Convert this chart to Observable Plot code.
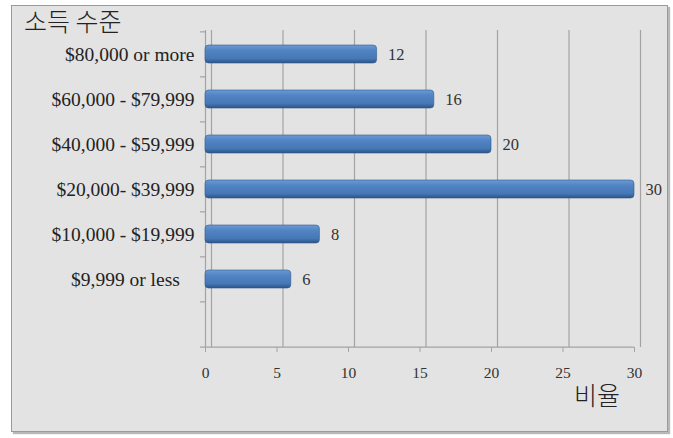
<!DOCTYPE html>
<html>
<head>
<meta charset="utf-8">
<script src="https://cdn.jsdelivr.net/npm/d3@7"></script>
<script src="https://cdn.jsdelivr.net/npm/@observablehq/plot@0.6"></script>
<style>
  html, body { margin: 0; padding: 0; background: #fff; }
  #wrap { position: relative; width: 673px; height: 438px; overflow: hidden; }
  #panel { position: absolute; left: 11px; top: 5px; width: 655px; height: 425px;
           background: #e3e3e3; border: 1px solid #9a9a9a;
           box-shadow: 2px 2px 1px #b8b8b8; }
  #chart { position: absolute; left: 0; top: 0; }
  .lbl { position: absolute; font-family: "Noto Sans CJK KR", sans-serif; font-size: 25px;
         color: #222; font-weight: 300; line-height: 1; }
</style>
</head>
<body>
<div id="wrap">
  <div id="panel"></div>
  <div id="chart"></div>
  <div class="lbl" id="ytitle" style="left:24px; top:8px;">소득 수준</div>
  <div class="lbl" id="xtitle" style="left:574px; top:382px;">비율</div>
</div>
<script>
const categories = ["$80,000 or more", "$60,000 - $79,999", "$40,000 - $59,999", "$20,000- $39,999", "$10,000 - $19,999", "$9,999 or less\u00a0\u00a0\u00a0"];
const values = [12, 16, 20, 30, 8, 6];
const xTicks = [0, 5, 10, 15, 20, 25, 30];
const emptyBand = " ";
const yDomain = [...categories, emptyBand];

const W = 673, H = 438, mt = 30, mb = 91, ml = 205, mr = 39;
const step = (H - mt - mb) / yDomain.length;

const data = categories.map((c, i) => ({cat: c, value: values[i]}));

const chart = Plot.plot({
  width: W, height: H,
  marginLeft: ml, marginRight: mr, marginTop: mt, marginBottom: mb,
  style: {background: "transparent", fontFamily: "'Liberation Serif', serif", color: "#222"},
  x: {domain: [0, 30]},
  y: {domain: yDomain, paddingInner: 0.6, paddingOuter: 0.3},
  marks: [
    Plot.ruleX(xTicks, {stroke: "#a3a3a3", strokeWidth: 1.2, dx: 6}),
    Plot.ruleX([0], {stroke: "#a3a3a3", strokeWidth: 1.2}),
    Plot.ruleY(yDomain, {y: d => d, x1: -0.35, x2: 0, dy: -step / 2, stroke: "#a3a3a3", strokeWidth: 1.2}),
    Plot.ruleY([emptyBand], {y: d => d, x1: -0.35, x2: 30, dy: step / 2, stroke: "#a3a3a3", strokeWidth: 1.2}),
    Plot.barX(data, {x: "value", y: "cat", fill: "url(#barGrad)", rx: 3.5, stroke: "#30578a", strokeWidth: 0.6}),
    Plot.text(data, {x: "value", y: "cat", text: d => String(d.value), dx: 11, textAnchor: "start", fontSize: 16.5, fill: "#333"}),
    Plot.axisX({ticks: xTicks, tickSize: 5, tickPadding: 14, fontSize: 15.5, stroke: "#a3a3a3", fill: "#333", label: null}),
    Plot.axisY({tickSize: 0, tickPadding: 11, fontSize: 19.5, fill: "#222", label: null})
  ]
});

const ns = "http://www.w3.org/2000/svg";
const defs = document.createElementNS(ns, "defs");
const grad = document.createElementNS(ns, "linearGradient");
grad.setAttribute("id", "barGrad");
grad.setAttribute("x1", "0"); grad.setAttribute("y1", "0");
grad.setAttribute("x2", "0"); grad.setAttribute("y2", "1");
[["0", "#6a9bd6"], ["0.3", "#5284c4"], ["0.75", "#4678b6"], ["1", "#2b5488"]].forEach(([o, c]) => {
  const s = document.createElementNS(ns, "stop");
  s.setAttribute("offset", o); s.setAttribute("stop-color", c);
  grad.appendChild(s);
});
defs.appendChild(grad);
chart.insertBefore(defs, chart.firstChild);

document.getElementById("chart").appendChild(chart);
</script>
</body>
</html>
